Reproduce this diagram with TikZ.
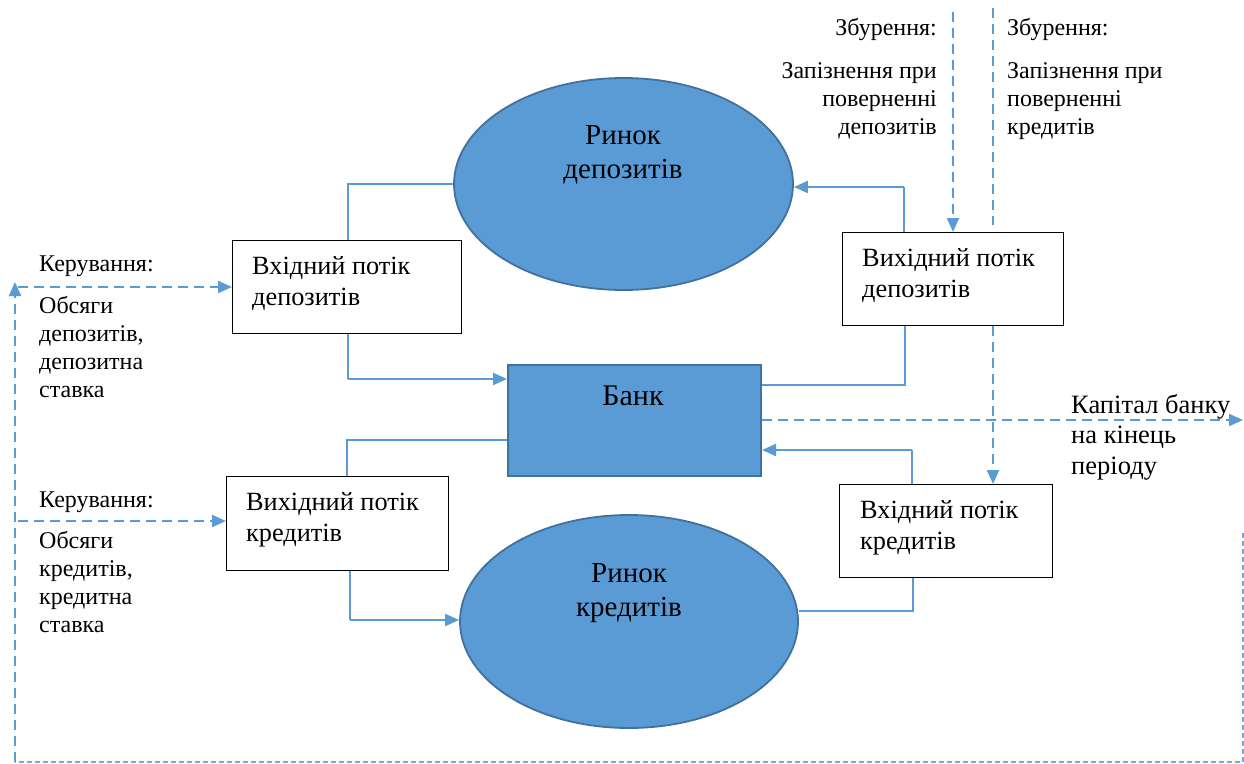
\documentclass[tikz,border=0pt]{standalone}
\usepackage{fontspec}
\setmainfont{Liberation Serif}
\usetikzlibrary{shapes.geometric,arrows.meta}
\definecolor{lb}{HTML}{5B9BD5}
\definecolor{db}{HTML}{41719C}
\newcommand\fszL{\fontsize{24}{28}\selectfont}
\newcommand\fszB{\fontsize{26.3}{31.5}\selectfont}
\newcommand\fszE{\fontsize{29}{34}\selectfont}
\begin{document}
\begin{tikzpicture}[x=1pt,y=-1pt,
 box/.style={draw=black,line width=1.4pt,fill=white,anchor=north west,inner sep=0pt},
 mkt/.style={ellipse,draw=db,line width=1.8pt,fill=lb,inner sep=0pt},
 thinln/.style={draw=lb,line width=1.2pt},
 thickarr/.style={draw=lb,line width=2.3pt,-{Triangle[length=14pt,width=12pt]}},
 dasharr/.style={draw=lb,line width=2.3pt,dash pattern=on 10pt off 6pt,-{Triangle[length=14pt,width=12pt]}},
 dashln/.style={draw=lb,line width=2.3pt,dash pattern=on 10pt off 6pt},
 fineln/.style={draw=lb!85,line width=1.4pt,dash pattern=on 5pt off 3pt},
 txt/.style={inner sep=0pt,anchor=base west},
 txtr/.style={inner sep=0pt,anchor=base east},
 txtc/.style={inner sep=0pt,anchor=base}]
\useasboundingbox (0,0) rectangle (1244,763);

% shapes
\node[mkt,minimum width=339pt,minimum height=212pt] (e1) at (623.5,184) {};
\node[mkt,minimum width=338pt,minimum height=213pt] (e2) at (629,621.5) {};
\node[box,minimum width=229pt,minimum height=93pt] (b1) at (232,240) {};
\node[box,minimum width=221pt,minimum height=93pt] (b2) at (842,232) {};
\node[box,minimum width=222pt,minimum height=94pt] (b3) at (226,476) {};
\node[box,minimum width=213pt,minimum height=93pt] (b4) at (839,484) {};
\node[draw=db,line width=2pt,fill=lb,minimum width=253pt,minimum height=111pt,anchor=north west,inner sep=0pt] (bank) at (507,364) {};

% coordinates
\coordinate (c1) at (348,184);
\coordinate (c2) at (348,379);
\coordinate (c3) at (905,385);
\coordinate (c4) at (904,187);
\coordinate (c5) at (347,440);
\coordinate (c6) at (350,620);
\coordinate (c7) at (913,611);
\coordinate (c8) at (912,450);
\coordinate (d1) at (953,12);
\coordinate (d2) at (993,8);
\coordinate (d2b) at (993,225);
\coordinate (d3) at (1243,420);
\coordinate (f1) at (1243,533);
\coordinate (f2) at (1243,762);
\coordinate (f3) at (15,762);
\coordinate (f4) at (15,282);
\coordinate (f5) at (18,287);
\coordinate (f6) at (18,521);

% solid connectors
\draw[thinln] (b1.north -| c1) |- (e1.west);
\draw[thinln] (b1.south -| c2) -- (c2);
\draw[thickarr] (c2) -- (c2 -| bank.west);
\draw[thinln] (bank.east |- c3) -- (c3) -- (c3 |- b2.south);
\draw[thinln] (b2.north -| c4) -- (c4);
\draw[thickarr] (c4) -- (c4 -| e1.east);
\draw[thinln] (bank.west |- c5) -- (c5) -- (c5 |- b3.north);
\draw[thinln] (b3.south -| c6) -- (c6);
\draw[thickarr] (c6) -- (c6 -| e2.west);
\draw[thinln] (c7 -| e2.east) -- (c7) -- (c7 |- b4.south);
\draw[thinln] (b4.north -| c8) -- (c8);
\draw[thickarr] (c8) -- (c8 -| bank.east);

% dashed connectors
\draw[dasharr] (d1) -- (d1 |- b2.north);
\draw[dashln] (d2) -- (d2b);
\draw[dasharr] (b2.south -| d2) -- (b4.north -| d2);
\draw[dasharr] (bank.east |- d3) -- (d3);
\draw[fineln] (f1) -- (f2) -- (f3);
\draw[dasharr] (f3) -- (f4);
\draw[dasharr] (f5) -- (f5 -| b1.west);
\draw[dasharr] (f6) -- (f6 -| b3.west);

% texts in shapes
\node[txtc] (t1) at (623,144) {\parbox[t]{300pt}{\centering\fszE Ринок\\депозитів}};
\node[txtc] (t2) at (629,582) {\parbox[t]{300pt}{\centering\fszE Ринок\\кредитів}};
\node[txtc] (t3) at (633,405) {\fontsize{30}{34}\selectfont Банк};
\node[txt] (t4) at (252,274) {\parbox[t]{220pt}{\raggedright\fszB Вхідний потік\\депозитів}};
\node[txt] (t5) at (862,266) {\parbox[t]{220pt}{\raggedright\fszB Вихідний потік\\депозитів}};
\node[txt] (t6) at (246,510) {\parbox[t]{220pt}{\raggedright\fszB Вихідний потік\\кредитів}};
\node[txt] (t7) at (860,518) {\parbox[t]{220pt}{\raggedright\fszB Вхідний потік\\кредитів}};

% labels
\node[txt] (l1) at (39,271) {\fszL Керування:};
\node[txt] (l2) at (39,313) {\parbox[t]{200pt}{\raggedright\fszL Обсяги\\депозитів,\\депозитна\\ставка}};
\node[txt] (l3) at (39,507) {\fszL Керування:};
\node[txt] (l4) at (39,548) {\parbox[t]{200pt}{\raggedright\fszL Обсяги\\кредитів,\\кредитна\\ставка}};
\node[txtr] (l5) at (937,35) {\fszL Збурення:};
\node[txtr] (l6) at (937,78) {\parbox[t]{250pt}{\raggedleft\fszL Запізнення при\\поверненні\\депозитів}};
\node[txt] (l7) at (1007,35) {\fszL Збурення:};
\node[txt] (l8) at (1007,78) {\parbox[t]{250pt}{\raggedright\fszL Запізнення при\\поверненні\\кредитів}};
\node[txt] (l9) at (1071,413) {\parbox[t]{200pt}{\raggedright\fontsize{26.5}{30.5}\selectfont Капітал банку\\на кінець\\періоду}};
\end{tikzpicture}
\end{document}
